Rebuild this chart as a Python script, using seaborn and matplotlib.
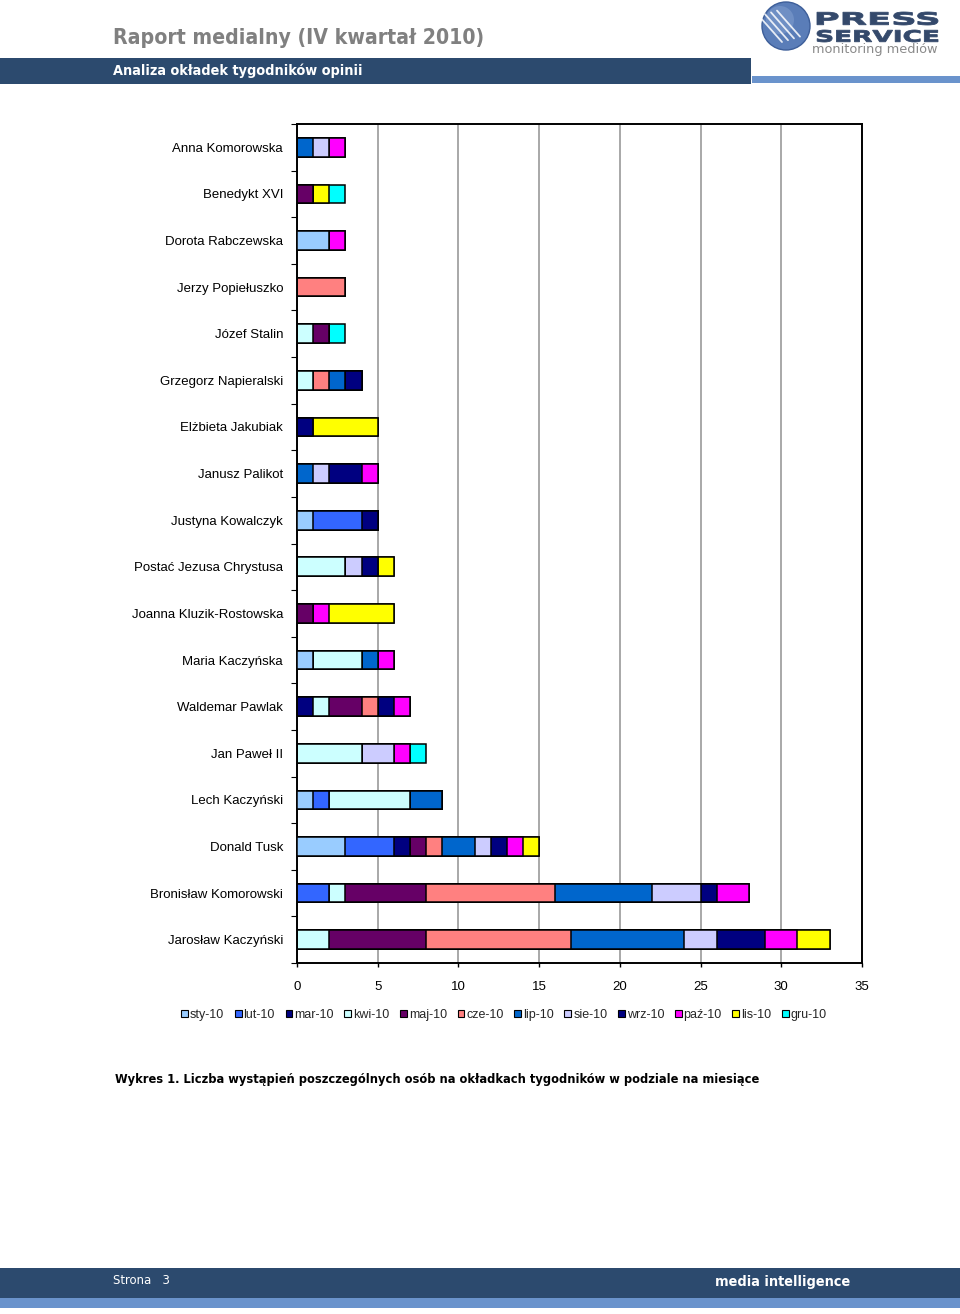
import matplotlib
matplotlib.use("Agg")
import matplotlib.pyplot as plt
import seaborn as sns
import pandas as pd
import numpy as np
from matplotlib.patches import Rectangle, Patch, Circle, PathPatch
from matplotlib.textpath import TextPath
from matplotlib.font_manager import FontProperties
from matplotlib.transforms import Affine2D

sns.set_theme(style="white")
plt.rcParams['font.family'] = ['Liberation Sans', 'DejaVu Sans']

persons = ["Anna Komorowska", "Benedykt XVI", "Dorota Rabczewska", "Jerzy Popiełuszko",
           "Józef Stalin", "Grzegorz Napieralski", "Elżbieta Jakubiak", "Janusz Palikot",
           "Justyna Kowalczyk", "Postać Jezusa Chrystusa", "Joanna Kluzik-Rostowska",
           "Maria Kaczyńska", "Waldemar Pawlak", "Jan Paweł II", "Lech Kaczyński",
           "Donald Tusk", "Bronisław Komorowski", "Jarosław Kaczyński"]

months = ["sty-10", "lut-10", "mar-10", "kwi-10", "maj-10", "cze-10",
          "lip-10", "sie-10", "wrz-10", "paź-10", "lis-10", "gru-10"]

sty = [0, 0, 2, 0, 0, 0, 0, 0, 1, 0, 0, 1, 0, 0, 1, 3, 0, 0]
lut = [0, 0, 0, 0, 0, 0, 0, 0, 3, 0, 0, 0, 0, 0, 1, 3, 2, 0]
mar = [0, 0, 0, 0, 0, 0, 0, 0, 1, 0, 0, 0, 1, 0, 0, 1, 0, 0]
kwi = [0, 0, 0, 0, 1, 1, 0, 0, 0, 3, 0, 3, 1, 4, 5, 0, 1, 2]
maj = [0, 1, 0, 0, 1, 0, 0, 0, 0, 0, 1, 0, 2, 0, 0, 1, 5, 6]
cze = [0, 0, 0, 3, 0, 1, 0, 0, 0, 0, 0, 0, 1, 0, 0, 1, 8, 9]
lip = [1, 0, 0, 0, 0, 1, 0, 1, 0, 0, 0, 1, 0, 0, 2, 2, 6, 7]
sie = [1, 0, 0, 0, 0, 0, 0, 1, 0, 1, 0, 0, 0, 2, 0, 1, 3, 2]
wrz = [0, 0, 0, 0, 0, 1, 1, 2, 0, 1, 0, 0, 1, 0, 0, 1, 1, 3]
paz = [1, 0, 1, 0, 0, 0, 0, 1, 0, 0, 1, 1, 1, 1, 0, 1, 2, 2]
lis = [0, 1, 0, 0, 0, 0, 4, 0, 0, 1, 4, 0, 0, 0, 0, 1, 0, 2]
gru = [0, 1, 0, 0, 1, 0, 0, 0, 0, 0, 0, 0, 0, 1, 0, 0, 0, 0]

series = [sty, lut, mar, kwi, maj, cze, lip, sie, wrz, paz, lis, gru]
colors = ["#99CCFF", "#3366FF", "#000080", "#CCFFFF", "#660066", "#FF8080",
          "#0066CC", "#CCCCFF", "#000080", "#FF00FF", "#FFFF00", "#00FFFF"]

df = pd.DataFrame({m: v for m, v in zip(months, series)}, index=persons)
cum = df.cumsum(axis=1)

fig = plt.figure(figsize=(9.6, 13.14), dpi=100)
W, H = 960, 1314

def fx(px):
    return px / W

def fy(py):
    return 1 - py / H

ax = fig.add_axes([fx(297), fy(963), fx(862) - fx(297), fy(124) - fy(963)])

# overlapping cumulative bars, last month first
for k in range(len(months) - 1, -1, -1):
    d = pd.DataFrame({"person": persons, "value": cum[months[k]].values})
    sns.barplot(data=d, x="value", y="person", order=persons, orient="h",
                color=colors[k], saturation=1, width=0.4, errorbar=None,
                edgecolor="black", linewidth=1.1, ax=ax, zorder=3)

ax.set_xlim(0, 35)
ax.set_ylim(len(persons) - 0.5, -0.5)
ax.set_xlabel("")
ax.set_ylabel("")
ax.set_xticks(np.arange(0, 36, 5))
ax.tick_params(axis="x", labelsize=9.5, length=3, width=1, color="black",
               direction="out", bottom=True, pad=10)
ax.tick_params(axis="y", labelsize=9.5, length=0, pad=10)
ax.set_yticks(np.arange(-0.5, len(persons), 1.0), minor=True)
ax.tick_params(axis="y", which="minor", length=4, width=0.8, color="black",
               direction="out", left=True)
ax.xaxis.grid(True, color="#999999", linewidth=1.2, zorder=0)
ax.yaxis.grid(False)
ax.set_axisbelow(True)
for s in ax.spines.values():
    s.set_visible(True)
    s.set_color("black")
    s.set_linewidth(1.4)
for lbl in ax.get_xticklabels() + ax.get_yticklabels():
    lbl.set_color("black")

handles = [Patch(facecolor=c, edgecolor="black", linewidth=0.8, label=m)
           for c, m in zip(colors, months)]
fig.legend(handles=handles, loc="center", bbox_to_anchor=(fx(504), fy(1015)),
           ncol=12, frameon=False, fontsize=9, handlelength=0.55, handleheight=0.55,
           handletextpad=0.15, columnspacing=0.85, borderaxespad=0)

renderer = fig.canvas.get_renderer()

def fit_text(x0, x1, y, s, ha="left", **kw):
    t = fig.text(fx(x0 if ha == "left" else x1), fy(y), s, ha=ha, va="center", **kw)
    w = t.get_window_extent(renderer).width
    t.set_fontsize(t.get_fontsize() * (x1 - x0) / w)
    return t

def box_text(s, x0, x1, ytop, ybot, color, weight="bold"):
    path = TextPath((0, 0), s, size=1, prop=FontProperties(family="DejaVu Sans", weight=weight))
    bb = path.get_extents()
    sx = (x1 - x0) / bb.width / 100
    sy = (ybot - ytop) / bb.height / 100
    tr = Affine2D().translate(-bb.x0, -bb.y0).scale(sx, sy).translate(x0 / 100, (H - ybot) / 100)
    fig.patches.append(PathPatch(path, transform=tr + fig.dpi_scale_trans,
                                 facecolor=color, edgecolor=color, linewidth=0.6, zorder=3))

# header
fig.patches.append(Rectangle((0, fy(84)), fx(751), fy(58) - fy(84),
                             transform=fig.transFigure, facecolor="#2C4A6E",
                             edgecolor="none", zorder=0))
fig.patches.append(Rectangle((fx(752), fy(83)), 1 - fx(752), fy(76) - fy(83),
                             transform=fig.transFigure, facecolor="#6A93CC",
                             edgecolor="none", zorder=0))
fit_text(113, 483, 38, "Raport medialny (IV kwartał 2010)",
         family=["DejaVu Sans"], weight="bold", fontstretch="condensed",
         fontsize=17, color="#808080")
fit_text(113, 362, 71, "Analiza okładek tygodników opinii",
         family=["DejaVu Sans"], weight="bold", fontstretch="condensed",
         fontsize=11, color="white")

# logo
cx, cy = 7.86, (H - 26) / 100
fig.patches.append(Circle((cx, cy), 0.24, transform=fig.dpi_scale_trans,
                          facecolor="#5A7DB8", edgecolor="#3D5E99", linewidth=1, zorder=1))
fig.patches.append(Circle((cx - 0.06, cy + 0.06), 0.14, transform=fig.dpi_scale_trans,
                          facecolor="#7E9CCD", edgecolor="none", alpha=0.6, zorder=1))
for off in (-0.10, -0.04, 0.02, 0.08):
    fig.lines.append(plt.Line2D([cx - 0.17 + off, cx + 0.06 + off],
                                [cy + 0.13 + off * 0.3, cy - 0.13 + off * 0.3],
                                transform=fig.dpi_scale_trans, color="white",
                                linewidth=1.3, alpha=0.85, zorder=2))
box_text("PRESS", 817, 938, 12, 25, "#34496B")
box_text("SERVICE", 817, 938, 30, 42, "#34496B")
fit_text(812, 938, 50, "monitoring mediów", family=["DejaVu Sans"],
         fontsize=7, color="#8A8A8A")

# caption
fit_text(115, 757, 1080,
         "Wykres 1. Liczba wystąpień poszczególnych osób na okładkach tygodników w podziale na miesiące",
         family=["DejaVu Sans"], weight="bold", fontstretch="condensed",
         fontsize=10, color="black")

# footer
fig.patches.append(Rectangle((0, fy(1298)), 1, fy(1268) - fy(1298),
                             transform=fig.transFigure, facecolor="#2C4A6E",
                             edgecolor="none", zorder=0))
fig.patches.append(Rectangle((0, fy(1308)), 1, fy(1298) - fy(1308),
                             transform=fig.transFigure, facecolor="#6A93CC",
                             edgecolor="none", zorder=0))
fit_text(113, 170, 1281, "Strona   3", family=["DejaVu Sans"], fontstretch="condensed",
         fontsize=10, color="white")
fit_text(715, 850, 1282, "media intelligence", family=["DejaVu Sans"],
         weight="bold", fontstretch="condensed", fontsize=12, color="white")

fig.savefig("out.png", dpi=100, facecolor="white")
